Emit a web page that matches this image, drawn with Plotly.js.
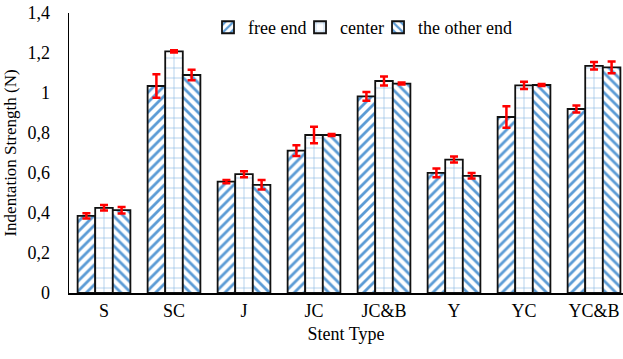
<!DOCTYPE html>
<html>
<head>
<meta charset="utf-8">
<script src="https://cdn.plot.ly/plotly-3.0.1.min.js"></script>
<style>html,body{margin:0;padding:0;background:#fff;}#chart{width:623px;height:359px;}</style>
</head>
<body>
<div id="chart"></div>
<script>
const categories = ["S", "SC", "J", "JC", "JC&B", "Y", "YC", "YC&B"];
const seriesNames = ["free end", "center", "the other end"];
const freeEnd = [0.386, 1.035, 0.557, 0.712, 0.983, 0.601, 0.880, 0.920];
const freeEndErr = [0.013, 0.059, 0.008, 0.027, 0.022, 0.022, 0.054, 0.017];
const center = [0.426, 1.208, 0.594, 0.790, 1.060, 0.667, 1.038, 1.136];
const centerErr = [0.014, 0.006, 0.015, 0.041, 0.022, 0.015, 0.018, 0.019];
const otherEnd = [0.414, 1.090, 0.541, 0.790, 1.047, 0.586, 1.040, 1.128];
const otherEndErr = [0.016, 0.026, 0.024, 0.005, 0.005, 0.014, 0.005, 0.029];
const yTickVals = [0, 0.2, 0.4, 0.6, 0.8, 1, 1.2, 1.4];

const blue = '#5b9bd5';
const font = 'Liberation Serif';

function mk(name, y, err, shape, size, solidity, fg, leg) {
  return {
    type: 'bar', name: name, x: categories, y: y, legend: leg,
    marker: {
      color: '#ffffff',
      line: {color: '#111111', width: 1.8},
      pattern: {shape: shape, fgcolor: fg, bgcolor: '#ffffff', size: size, solidity: solidity, fillmode: 'replace'}
    },
    error_y: {type: 'data', array: err, visible: true, color: '#ff0000', thickness: 2.5, width: 4}
  };
}

const data = [
  mk(seriesNames[0], freeEnd, freeEndErr, '/', 7, 0.4, blue, 'legend'),
  mk(seriesNames[1], center, centerErr, '+', 10, 0.1, '#6fa6da', 'legend2'),
  mk(seriesNames[2], otherEnd, otherEndErr, '\\', 7, 0.4, blue, 'legend3')
];

function leg(x) {
  return {orientation: 'h', x: x, xanchor: 'left', y: 0.948, yanchor: 'middle',
          font: {family: font, size: 18, color: '#000000'}, bgcolor: 'rgba(0,0,0,0)'};
}

const layout = {
  width: 623, height: 359,
  margin: {l: 69, r: 0, t: 13, b: 66, pad: 0},
  paper_bgcolor: '#ffffff', plot_bgcolor: '#ffffff',
  separators: ', ',
  font: {family: font, size: 18, color: '#000000'},
  barmode: 'group', bargap: 0.246, bargroupgap: 0,
  showlegend: true,
  legend: leg(0.2509),
  legend2: leg(0.4170),
  legend3: leg(0.5578),
  xaxis: {
    type: 'category', range: [-0.5, 7.414], showline: true, linecolor: '#000000', linewidth: 2,
    ticks: '', showgrid: false, zeroline: false, tickfont: {family: font, size: 18, color: '#000000'},
    title: {text: 'Stent Type', font: {family: font, size: 18, color: '#000000'}, standoff: 8}
  },
  yaxis: {
    range: [0, 1.4], tickvals: yTickVals, showline: true, linecolor: '#000000', linewidth: 1.5,
    ticks: '', showgrid: false, zeroline: false, ticklabelstandoff: 14,
    tickfont: {family: font, size: 18, color: '#000000'},
    title: {text: 'Indentation Strength (N)', font: {family: font, size: 17, color: '#000000'}, standoff: 6}
  }
};

Plotly.newPlot('chart', data, layout, {displayModeBar: false, staticPlot: true});
</script>
</body>
</html>
